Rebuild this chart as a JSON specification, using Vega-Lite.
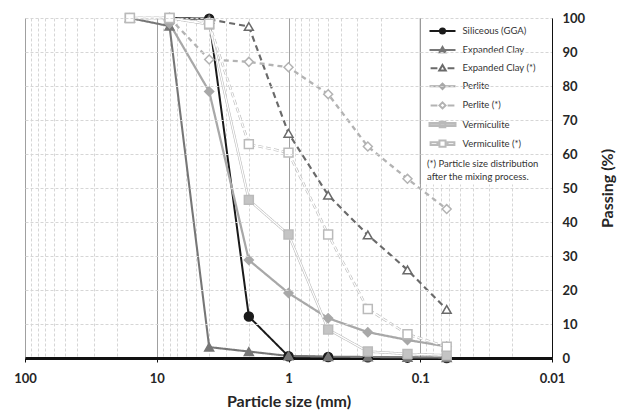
{
  "$schema": "https://vega.github.io/schema/vega-lite/v6.json",
  "width": 527,
  "height": 340,
  "autosize": {"type": "none"},
  "padding": {"left": 25, "top": 18, "right": 73, "bottom": 56},
  "background": "white",
  "config": {"view": {"stroke": null}, "font": "Lato"},
  "datasets": {
    "curves": [
      {"s": "Siliceous (GGA)", "d": 8, "p": 100},
      {"s": "Siliceous (GGA)", "d": 4, "p": 99.8},
      {"s": "Siliceous (GGA)", "d": 2, "p": 12.2},
      {"s": "Siliceous (GGA)", "d": 1, "p": 0.5},
      {"s": "Siliceous (GGA)", "d": 0.5, "p": 0.3},
      {"s": "Siliceous (GGA)", "d": 0.25, "p": 0.2},
      {"s": "Siliceous (GGA)", "d": 0.125, "p": 0.1},
      {"s": "Siliceous (GGA)", "d": 0.063, "p": 0},
      {"s": "Expanded Clay", "d": 16, "p": 100},
      {"s": "Expanded Clay", "d": 8, "p": 97.6},
      {"s": "Expanded Clay", "d": 4, "p": 3.2},
      {"s": "Expanded Clay", "d": 2, "p": 1.9},
      {"s": "Expanded Clay", "d": 1, "p": 0.6},
      {"s": "Expanded Clay", "d": 0.5, "p": 0.4},
      {"s": "Expanded Clay", "d": 0.25, "p": 0.3},
      {"s": "Expanded Clay", "d": 0.125, "p": 0.2},
      {"s": "Expanded Clay", "d": 0.063, "p": 0.1},
      {"s": "Expanded Clay (*)", "d": 8, "p": 100},
      {"s": "Expanded Clay (*)", "d": 4, "p": 99.6},
      {"s": "Expanded Clay (*)", "d": 2, "p": 97.5},
      {"s": "Expanded Clay (*)", "d": 1, "p": 66.1},
      {"s": "Expanded Clay (*)", "d": 0.5, "p": 47.9},
      {"s": "Expanded Clay (*)", "d": 0.25, "p": 36.2},
      {"s": "Expanded Clay (*)", "d": 0.125, "p": 25.9},
      {"s": "Expanded Clay (*)", "d": 0.063, "p": 14.3},
      {"s": "Perlite", "d": 8, "p": 98.4},
      {"s": "Perlite", "d": 4, "p": 78.4},
      {"s": "Perlite", "d": 2, "p": 28.8},
      {"s": "Perlite", "d": 1, "p": 19.1},
      {"s": "Perlite", "d": 0.5, "p": 11.7},
      {"s": "Perlite", "d": 0.25, "p": 7.6},
      {"s": "Perlite", "d": 0.125, "p": 5.3},
      {"s": "Perlite", "d": 0.063, "p": 3.4},
      {"s": "Perlite (*)", "d": 8, "p": 100},
      {"s": "Perlite (*)", "d": 4, "p": 87.8},
      {"s": "Perlite (*)", "d": 2, "p": 87.1},
      {"s": "Perlite (*)", "d": 1, "p": 85.5},
      {"s": "Perlite (*)", "d": 0.5, "p": 77.6},
      {"s": "Perlite (*)", "d": 0.25, "p": 62.2},
      {"s": "Perlite (*)", "d": 0.125, "p": 52.7},
      {"s": "Perlite (*)", "d": 0.063, "p": 43.8},
      {"s": "Vermiculite", "d": 16, "p": 100},
      {"s": "Vermiculite", "d": 8, "p": 100},
      {"s": "Vermiculite", "d": 4, "p": 98.1},
      {"s": "Vermiculite", "d": 2, "p": 46.5},
      {"s": "Vermiculite", "d": 1, "p": 36.3},
      {"s": "Vermiculite", "d": 0.5, "p": 8.4},
      {"s": "Vermiculite", "d": 0.25, "p": 1.9},
      {"s": "Vermiculite", "d": 0.125, "p": 1.2},
      {"s": "Vermiculite", "d": 0.063, "p": 0.8},
      {"s": "Vermiculite (*)", "d": 16, "p": 100},
      {"s": "Vermiculite (*)", "d": 8, "p": 100},
      {"s": "Vermiculite (*)", "d": 4, "p": 98.3},
      {"s": "Vermiculite (*)", "d": 2, "p": 62.9},
      {"s": "Vermiculite (*)", "d": 1, "p": 60.4},
      {"s": "Vermiculite (*)", "d": 0.5, "p": 36.3},
      {"s": "Vermiculite (*)", "d": 0.25, "p": 14.4},
      {"s": "Vermiculite (*)", "d": 0.125, "p": 7.0},
      {"s": "Vermiculite (*)", "d": 0.063, "p": 3.3}
    ],
    "note": [{"t": "(*) Particle size distribution"}]
  },
  "data": {"name": "curves"},
  "resolve": {"scale": {"shape": "independent", "strokeWidth": "independent", "stroke": "independent", "fill": "independent"}},
  "layer": [
    {
      "mark": {"type": "line"},
      "encoding": {
        "x": {
          "field": "d", "type": "quantitative",
          "scale": {"type": "log", "domain": [0.01, 100], "reverse": true},
          "axis": {
            "values": [0.01, 0.02, 0.03, 0.04, 0.05, 0.06, 0.07, 0.08, 0.09, 0.1, 0.2, 0.3, 0.4, 0.5, 0.6, 0.7, 0.8, 0.9, 1, 2, 3, 4, 5, 6, 7, 8, 9, 10, 20, 30, 40, 50, 60, 70, 80, 90, 100],
            "tickCount": 60,
            "title": "Particle size (mm)",
            "titleFont": "Lato", "titleFontSize": 16, "titleFontWeight": "bold", "titleColor": "#262626", "titlePadding": 8,
            "labelExpr": "indexof([0.01,0.1,1,10,100], datum.value) >= 0 ? format(datum.value, '~g') : ''",
            "labelFont": "Lato", "labelFontSize": 13, "labelFontWeight": "bold", "labelColor": "#262626",
            "labelPadding": 10, "labelFlush": false, "labelOverlap": false,
            "grid": true,
            "gridColor": {"condition": {"test": "indexof([0.01,0.1,1,10,100], datum.value) >= 0", "value": "#808080"}, "value": "#d6d6d6"},
            "gridDash": {"condition": {"test": "indexof([0.01,0.1,1,10,100], datum.value) >= 0", "value": [1, 0]}, "value": [3, 2]},
            "tickOpacity": {"condition": {"test": "indexof([0.01,0.1,1,10,100], datum.value) >= 0", "value": 1}, "value": 0},
            "tickSize": 4, "tickColor": "#111",
            "domainColor": "#111", "domainWidth": 3
          }
        },
        "y": {
          "field": "p", "type": "quantitative",
          "scale": {"domain": [0, 100], "nice": false},
          "axis": {
            "orient": "right",
            "values": [0, 10, 20, 30, 40, 50, 60, 70, 80, 90, 100],
            "tickCount": 20,
            "title": "Passing (%)",
            "titleFont": "Lato", "titleFontSize": 16, "titleFontWeight": "bold", "titleColor": "#262626",
            "titleAngle": 270, "titleBaseline": "top", "titlePadding": 15,
            "labelFont": "Lato", "labelFontSize": 13, "labelFontWeight": "bold", "labelColor": "#262626",
            "labelPadding": 10, "labelOverlap": false,
            "ticks": false,
            "grid": true, "gridColor": "#d6d6d6", "gridDash": [3, 2],
            "gridOpacity": {"condition": {"test": "datum.value === 0", "value": 0}, "value": 1},
            "domainColor": "#111", "domainWidth": 1,
            "zindex": 1
          }
        },
        "color": {
          "field": "s", "type": "nominal",
          "scale": {
            "domain": ["Siliceous (GGA)", "Expanded Clay", "Expanded Clay (*)", "Perlite", "Perlite (*)", "Vermiculite", "Vermiculite (*)"],
            "range": ["#1a1a1a", "#767676", "#6a6a6a", "#a8a8a8", "#b3b3b3", "#bababa", "#bababa"]
          },
          "legend": null
        },
        "strokeDash": {
          "field": "s", "type": "nominal",
          "scale": {
            "domain": ["Siliceous (GGA)", "Expanded Clay", "Expanded Clay (*)", "Perlite", "Perlite (*)", "Vermiculite", "Vermiculite (*)"],
            "range": [[1, 0], [1, 0], [6, 4], [1, 0], [5, 4], [1, 0], [5, 3]]
          },
          "legend": null
        },
        "strokeWidth": {
          "field": "s", "type": "nominal",
          "scale": {
            "domain": ["Siliceous (GGA)", "Expanded Clay", "Expanded Clay (*)", "Perlite", "Perlite (*)", "Vermiculite", "Vermiculite (*)"],
            "range": [2, 2.5, 2.5, 2.5, 2, 4, 3.5]
          },
          "legend": null
        }
      }
    },
    {
      "data": {"name": "note"},
      "mark": {"type": "rect", "fill": "white"},
      "encoding": {
        "x": {"datum": 0.1, "type": "quantitative"},
        "x2": {"datum": 0.01},
        "y": {"datum": 100, "type": "quantitative"},
        "y2": {"datum": 51}
      }
    },
    {
      "data": {"name": "note"},
      "mark": {"type": "rule", "color": "#808080", "strokeWidth": 1},
      "encoding": {
        "x": {"datum": 0.1, "type": "quantitative"},
        "y": {"datum": 51, "type": "quantitative"},
        "y2": {"datum": 100}
      }
    },
    {
      "transform": [{"filter": {"field": "s", "oneOf": ["Vermiculite", "Vermiculite (*)"]}}],
      "mark": {"type": "line", "color": "white", "strokeWidth": 1.3},
      "encoding": {
        "x": {"field": "d", "type": "quantitative"},
        "y": {"field": "p", "type": "quantitative"},
        "strokeDash": {"field": "s", "type": "nominal", "legend": null},
        "detail": {"field": "s"}
      }
    },
    {
      "mark": {"type": "point", "filled": false, "opacity": 1, "strokeWidth": 1.5},
      "encoding": {
        "x": {"field": "d", "type": "quantitative"},
        "y": {"field": "p", "type": "quantitative"},
        "color": {"field": "s", "type": "nominal", "legend": null},
        "fill": {
          "field": "s", "type": "nominal",
          "scale": {
            "domain": ["Siliceous (GGA)", "Expanded Clay", "Expanded Clay (*)", "Perlite", "Perlite (*)", "Vermiculite", "Vermiculite (*)"],
            "range": ["#1a1a1a", "#767676", "#ffffff", "#a8a8a8", "#ffffff", "#c4c4c4", "#ffffff"]
          },
          "legend": null
        },
        "shape": {
          "field": "s", "type": "nominal",
          "scale": {
            "domain": ["Siliceous (GGA)", "Expanded Clay", "Expanded Clay (*)", "Perlite", "Perlite (*)", "Vermiculite", "Vermiculite (*)"],
            "range": ["circle", "triangle-up", "triangle-up", "diamond", "diamond", "square", "square"]
          },
          "legend": null
        },
        "size": {
          "field": "s", "type": "nominal",
          "scale": {
            "domain": ["Siliceous (GGA)", "Expanded Clay", "Expanded Clay (*)", "Perlite", "Perlite (*)", "Vermiculite", "Vermiculite (*)"],
            "range": [80, 80, 100, 70, 80, 90, 100]
          },
          "legend": null
        }
      }
    },
    {
      "transform": [{"filter": "false"}],
      "mark": {"type": "point", "opacity": 1, "size": 289},
      "encoding": {
        "x": {"field": "d", "type": "quantitative"},
        "y": {"field": "p", "type": "quantitative"},
        "shape": {
          "field": "s", "type": "nominal",
          "scale": {
            "domain": ["Siliceous (GGA)", "Expanded Clay", "Expanded Clay (*)", "Perlite", "Perlite (*)", "Vermiculite", "Vermiculite (*)"],
            "range": [
              "M-1.53,0H1.53M-0.3,0A0.3,0.3,0,1,0,0.3,0A0.3,0.3,0,1,0,-0.3,0Z",
              "M-1.53,0H1.53M0,-0.36L0.36,0.26L-0.36,0.26Z",
              "M-1.4,0H-0.6M0.6,0H1.4M0,-0.38L0.38,0.26L-0.38,0.26Z",
              "M-1.53,0H1.53M-0.32,0L0,-0.32L0.32,0L0,0.32Z",
              "M-1.4,0H-0.6M0.6,0H1.4M-0.36,0L0,-0.36L0.36,0L0,0.36Z",
              "M-1.53,-0.17H1.53V0.17H-1.53ZM-0.33,-0.33H0.33V0.33H-0.33Z",
              "M-1.4,-0.17H-0.6V0.17H-1.4ZM0.6,-0.17H1.4V0.17H0.6ZM-0.36,-0.36H0.36V0.36H-0.36Z"
            ]
          },
          "legend": {
            "orient": "none", "legendX": 408, "legendY": 3.5,
            "title": null, "padding": 0,
            "symbolSize": 289, "symbolStrokeWidth": 1.5,
            "labelOffset": 10.5, "rowPadding": 2.1,
            "labelFont": "Lato", "labelFontSize": 9.5, "labelColor": "#333333"
          }
        },
        "stroke": {
          "field": "s", "type": "nominal",
          "scale": {
            "domain": ["Siliceous (GGA)", "Expanded Clay", "Expanded Clay (*)", "Perlite", "Perlite (*)", "Vermiculite", "Vermiculite (*)"],
            "range": ["#1a1a1a", "#767676", "#6a6a6a", "#a8a8a8", "#b3b3b3", "#bababa", "#bababa"]
          }
        },
        "fill": {
          "field": "s", "type": "nominal",
          "scale": {
            "domain": ["Siliceous (GGA)", "Expanded Clay", "Expanded Clay (*)", "Perlite", "Perlite (*)", "Vermiculite", "Vermiculite (*)"],
            "range": ["#1a1a1a", "#767676", "#ffffff", "#a8a8a8", "#ffffff", "#c4c4c4", "#ffffff"]
          }
        },
        "strokeWidth": {
          "field": "s", "type": "nominal",
          "scale": {
            "domain": ["Siliceous (GGA)", "Expanded Clay", "Expanded Clay (*)", "Perlite", "Perlite (*)", "Vermiculite", "Vermiculite (*)"],
            "range": [2, 2, 1.8, 2, 1.6, 1, 1]
          }
        }
      }
    },
    {
      "data": {"name": "note"},
      "mark": {"type": "text", "align": "left", "baseline": "middle", "font": "Lato", "fontSize": 9.5, "color": "#333333", "lineHeight": 13},
      "encoding": {
        "x": {"datum": 0.0889, "type": "quantitative"},
        "y": {"datum": 57.2, "type": "quantitative"},
        "text": {"value": ["(*) Particle size distribution", "after the mixing process."]}
      }
    }
  ]
}
